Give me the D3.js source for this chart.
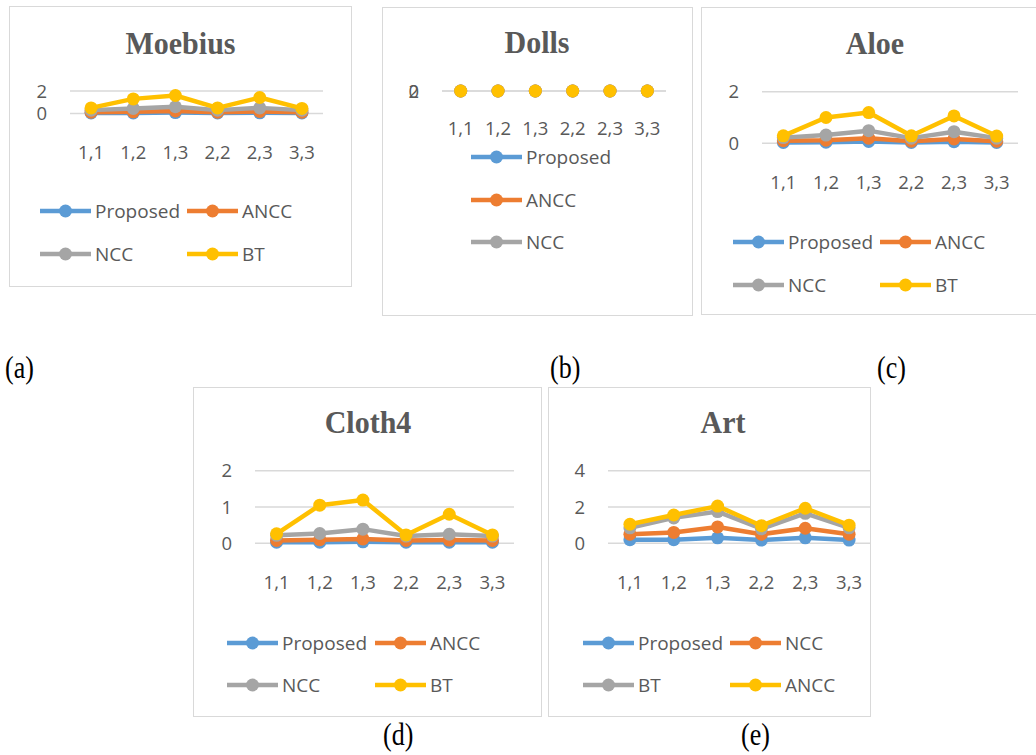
<!DOCTYPE html>
<html><head><meta charset="utf-8">
<script src="https://cdn.jsdelivr.net/npm/d3@7"></script>
<style>body{margin:0;background:#fff}svg{display:block}</style>
</head><body>
<svg id="c" width="1036" height="755"></svg>
<script>
const categories = ["1,1","1,2","1,3","2,2","2,3","3,3"];
const seriesColors = ["#5B9BD5","#ED7D31","#A5A5A5","#FFC000"];

const moebiusNames = ["Proposed","ANCC","NCC","BT"];
const moebiusProposed = [0.05,0.05,0.08,0.05,0.06,0.05];
const moebiusANCC = [0.12,0.15,0.22,0.12,0.18,0.12];
const moebiusNCC = [0.3,0.45,0.6,0.3,0.5,0.3];
const moebiusBT = [0.5,1.3,1.6,0.5,1.42,0.45];
const moebiusTicks = [0,2];

const dollsNames = ["Proposed","ANCC","NCC","BT"];
const dollsProposed = [0,0,0,0,0,0];
const dollsANCC = [0,0,0,0,0,0];
const dollsNCC = [0,0,0,0,0,0];
const dollsBT = [0,0,0,0,0,0];
const dollsTicks = [0,2];

const aloeNames = ["Proposed","ANCC","NCC","BT"];
const aloeProposed = [0.03,0.04,0.07,0.03,0.06,0.03];
const aloeANCC = [0.1,0.12,0.2,0.08,0.17,0.08];
const aloeNCC = [0.22,0.32,0.49,0.2,0.45,0.2];
const aloeBT = [0.29,1.0,1.19,0.29,1.06,0.28];
const aloeTicks = [0,2];

const cloth4Names = ["Proposed","ANCC","NCC","BT"];
const cloth4Proposed = [0.03,0.03,0.04,0.03,0.03,0.03];
const cloth4ANCC = [0.08,0.1,0.12,0.08,0.09,0.08];
const cloth4NCC = [0.22,0.27,0.39,0.2,0.25,0.2];
const cloth4BT = [0.26,1.05,1.19,0.23,0.8,0.23];
const cloth4Ticks = [0,1,2];

const artNames = ["Proposed","NCC","BT","ANCC"];
const artProposed = [0.2,0.2,0.3,0.18,0.3,0.18];
const artNCC = [0.5,0.6,0.9,0.5,0.83,0.5];
const artBT = [0.85,1.4,1.75,0.8,1.65,0.85];
const artANCC = [1.05,1.56,2.05,0.97,1.93,1.0];
const artTicks = [0,2,4];

const titles = ["Moebius","Dolls","Aloe","Cloth4","Art"];
const subLabels = ["(a)","(b)","(c)","(d)","(e)"];

// layout (positions only)
const layouts = [
  {box:[9,6,352,287], tx:180.5, ty:54, px:[70,323], py:[113.5,91], catY:152,
   legCols:[40,187], legRows:[211,254], legCount:4, lines:true},
  {box:[382,7,693,316], tx:537, ty:53, px:[442,666], py:[91,91], catY:128,
   legCols:[471], legRows:[157,200,242], legCount:3, lines:false},
  {box:[701,7,1040,315], tx:875, ty:54, px:[762,1018], py:[143.3,91.7], catY:182,
   legCols:[733,880], legRows:[242,285], legCount:4, lines:true},
  {box:[193,387,542,717], tx:368, ty:433, px:[255,514], py:[543.3,470.7], catY:582,
   legCols:[227,375], legRows:[643,685], legCount:4, lines:true},
  {box:[548,387,871,717], tx:723, ty:433, px:[608,871], py:[543.3,470.7], catY:582,
   legCols:[583,730], legRows:[643,685], legCount:4, lines:true}
];
const subPos = [[5,378],[550,378],[877,378],[383,745],[741,745]];

const panelNames = [moebiusNames, dollsNames, aloeNames, cloth4Names, artNames];
const panelValues = [
  [moebiusProposed, moebiusANCC, moebiusNCC, moebiusBT],
  [dollsProposed, dollsANCC, dollsNCC, dollsBT],
  [aloeProposed, aloeANCC, aloeNCC, aloeBT],
  [cloth4Proposed, cloth4ANCC, cloth4NCC, cloth4BT],
  [artProposed, artNCC, artBT, artANCC]
];
const panelTicks = [moebiusTicks, dollsTicks, aloeTicks, cloth4Ticks, artTicks];

const svg = d3.select("#c");
const textCol = "#595959";
const gridCol = "#D9D9D9";
const sansFont = "'Open Sans', 'Noto Sans', sans-serif";
const serifFont = "'Liberation Serif', 'Times New Roman', serif";

layouts.forEach((L, i) => {
  const g = svg.append("g");
  const [bx0, by0, bx1, by1] = L.box;
  const clipId = "clip" + i;
  svg.append("clipPath").attr("id", clipId).append("rect")
    .attr("x", bx0).attr("y", by0).attr("width", bx1 - bx0).attr("height", by1 - by0);
  g.attr("clip-path", `url(#${clipId})`);

  g.append("rect").attr("x", bx0).attr("y", by0).attr("width", bx1 - bx0).attr("height", by1 - by0)
    .attr("fill", "#fff").attr("stroke", gridCol).attr("stroke-width", 2);

  g.append("text").attr("transform", `translate(${L.tx},${L.ty}) scale(1,1.06)`)
    .attr("text-anchor", "middle")
    .attr("font-family", serifFont).attr("font-weight", "bold").attr("font-size", 30)
    .attr("fill", textCol).text(titles[i]);

  const ticks = panelTicks[i];
  const x = d3.scalePoint().domain(categories).range(L.px).padding(0.5);
  const y = d3.scaleLinear().domain([0, d3.max(ticks)]).range(L.py);

  // gridlines
  g.append("g").selectAll("line").data(ticks).join("line")
    .attr("x1", L.px[0]).attr("x2", L.px[1])
    .attr("y1", d => y(d)).attr("y2", d => y(d))
    .attr("stroke", gridCol).attr("stroke-width", 1.5);

  // y labels
  g.append("g").selectAll("text").data(ticks).join("text")
    .attr("x", L.px[0] - 23).attr("y", d => y(d)).attr("dy", "0.36em")
    .attr("text-anchor", "end").attr("font-family", sansFont).attr("font-size", 18.5)
    .attr("fill", textCol).text(d => d);

  // category labels
  g.append("g").selectAll("text").data(categories).join("text")
    .attr("x", d => x(d)).attr("y", L.catY).attr("dy", "0.36em")
    .attr("text-anchor", "middle").attr("font-family", sansFont).attr("font-size", 18.5)
    .attr("fill", textCol).text(d => d);

  const vals = panelValues[i];
  const line = d3.line().x((d, j) => x(categories[j])).y(d => y(d));
  vals.forEach((s, k) => {
    const sg = g.append("g");
    if (L.lines) {
      sg.append("path").datum(s).attr("d", line).attr("fill", "none")
        .attr("stroke", seriesColors[k]).attr("stroke-width", 4.5)
        .attr("stroke-linejoin", "round");
    }
    sg.selectAll("circle").data(s).join("circle")
      .attr("cx", (d, j) => x(categories[j])).attr("cy", d => y(d)).attr("r", 6.5)
      .attr("fill", seriesColors[k]);
  });

  // legend
  const names = panelNames[i];
  for (let k = 0; k < L.legCount; k++) {
    const col = k % L.legCols.length;
    const row = Math.floor(k / L.legCols.length);
    const lx = L.legCols[col], ly = L.legRows[row];
    const lg = g.append("g");
    lg.append("line").attr("x1", lx).attr("x2", lx + 51).attr("y1", ly).attr("y2", ly)
      .attr("stroke", seriesColors[k]).attr("stroke-width", 4.5);
    lg.append("circle").attr("cx", lx + 25.5).attr("cy", ly).attr("r", 6.5).attr("fill", seriesColors[k]);
    lg.append("text").attr("x", lx + 55).attr("y", ly).attr("dy", "0.36em")
      .attr("font-family", sansFont).attr("font-size", 19).attr("fill", textCol).text(names[k]);
  }

  svg.append("text").attr("transform", `translate(${subPos[i][0]},${subPos[i][1]}) scale(1,1.2)`)
    .attr("font-family", serifFont).attr("font-size", 26).attr("fill", "#000").text(subLabels[i]);
});
</script>
</body></html>
